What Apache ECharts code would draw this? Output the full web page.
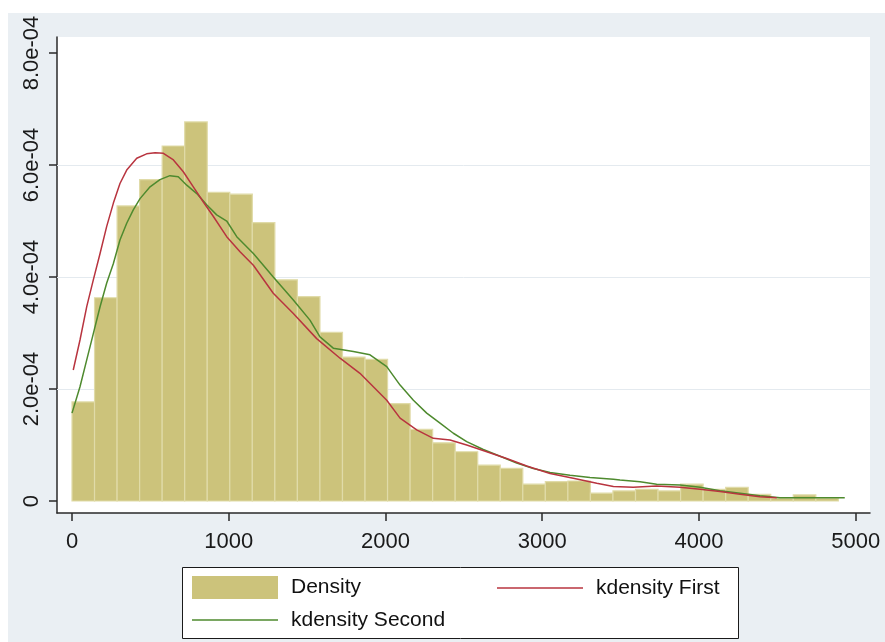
<!DOCTYPE html>
<html>
<head>
<meta charset="utf-8">
<script src="https://cdn.jsdelivr.net/npm/echarts@6/dist/echarts.min.js"></script>
<style>
  html, body { margin: 0; padding: 0; background: #ffffff; }
  #chart { width: 885px; height: 642px; }
</style>
</head>
<body>
<div id="chart"></div>
<script>
// Histogram: equal-width bins starting at binStart; densities in units of 1e-4
const binStart = 0;
const binWidth = 143.8;
const histDensityE4 = [
  1.77, 3.63, 5.27, 5.74, 6.34, 6.77, 5.51, 5.48, 4.97, 3.95,
  3.65, 3.01, 2.57, 2.53, 1.74, 1.28, 1.04, 0.88, 0.64, 0.585,
  0.30, 0.345, 0.357, 0.14, 0.18, 0.21, 0.18, 0.30, 0.21, 0.245,
  0.12, 0.05, 0.11, 0.05
];

// Kernel density estimate of the first variable (x, density in 1e-4)
const firstX = [
  8, 51, 94, 136, 179, 221, 264, 306, 349, 413, 476, 530, 583, 647, 710, 774,
  838, 902, 987, 1072, 1157, 1284, 1412, 1561, 1710, 1837, 2008, 2093, 2199,
  2305, 2412, 2518, 2646, 2773, 2901, 3050, 3198, 3348, 3454, 3580, 3730, 3879,
  4007, 4134, 4262, 4389, 4496
];
const firstY = [
  2.34, 2.875, 3.47, 3.95, 4.42, 4.90, 5.32, 5.67, 5.91, 6.12, 6.20, 6.22, 6.21, 6.09, 5.88, 5.61,
  5.34, 5.08, 4.72, 4.45, 4.21, 3.71, 3.35, 2.90, 2.55, 2.28, 1.80, 1.48, 1.27,
  1.12, 1.09, 1.00, 0.88, 0.76, 0.625, 0.49, 0.405, 0.316, 0.26, 0.245, 0.27, 0.245,
  0.21, 0.17, 0.12, 0.077, 0.06
];

// Kernel density estimate of the second variable (x, density in 1e-4)
const secondX = [
  0, 51, 94, 136, 179, 221, 264, 306, 349, 391, 434, 498, 561, 625, 678, 732,
  796, 859, 923, 987, 1051, 1157, 1284, 1412, 1518, 1582, 1667, 1795, 1901, 2008,
  2093, 2178, 2263, 2348, 2433, 2518, 2624, 2731, 2837, 2943, 3050, 3177, 3305,
  3454, 3496, 3624, 3730, 3879, 4007, 4134, 4262, 4389, 4517, 4645, 4815, 4930
];
const secondY = [
  1.57, 2.04, 2.52, 2.99, 3.47, 3.89, 4.24, 4.66, 4.96, 5.20, 5.40, 5.61, 5.74, 5.81, 5.79, 5.64,
  5.49, 5.29, 5.11, 5.00, 4.72, 4.42, 4.00, 3.59, 3.23, 2.93, 2.73, 2.67, 2.61, 2.40,
  2.07, 1.80, 1.57, 1.39, 1.21, 1.06, 0.92, 0.80, 0.68, 0.58, 0.51, 0.46, 0.42,
  0.39, 0.375, 0.345, 0.30, 0.285, 0.245, 0.185, 0.14, 0.095, 0.06, 0.06, 0.06, 0.06
];

// Axis ticks
const xTickValues = [0, 1000, 2000, 3000, 4000, 5000];
const xTickLabels = ['0', '1000', '2000', '3000', '4000', '5000'];
const yTickValues = [0, 2, 4, 6, 8];
const yTickLabels = ['0', '2.0e-04', '4.0e-04', '6.0e-04', '8.0e-04'];
const yGridValues = [2, 4, 6];

const seriesNames = ['Density', 'kdensity First', 'kdensity Second'];

const FONT = "'Liberation Sans', Arial, Helvetica, sans-serif";
const BAR_FILL = '#CCC37B';
const BAR_EDGE = '#E0DBA8';
const RED = '#B8343F';
const GREEN = '#4E8A2E';
const AXIS = '#2a2a2a';

const histData = histDensityE4.map((v, i) => [binStart + i * binWidth, binStart + (i + 1) * binWidth, v]);
const firstData = firstX.map((x, i) => [x, firstY[i]]);
const secondData = secondX.map((x, i) => [x, secondY[i]]);

function tickLabel(values, labels, v) {
  for (let i = 0; i < values.length; i++) {
    if (Math.abs(values[i] - v) < 1e-6) return labels[i];
  }
  return '';
}

const chart = echarts.init(document.getElementById('chart'), null, { renderer: 'canvas' });

const legendBase = {
  orient: 'horizontal',
  padding: 0,
  itemGap: 0,
  itemWidth: 86,
  icon: 'rect',
  selectedMode: false,
  itemStyle: { borderWidth: 0 },
  textStyle: { fontFamily: FONT, fontSize: 21, color: '#111', lineHeight: 22, padding: [0, 0, 0, 8] }
};

chart.setOption({
  animation: false,
  backgroundColor: '#ffffff',
  graphic: [
    {
      type: 'rect', z: -10, silent: true,
      shape: { x: 8, y: 13, width: 877, height: 629 },
      style: { fill: '#EAEFF3' }
    },
    {
      type: 'rect', z: 3, silent: true,
      shape: { x: 182.5, y: 567.5, width: 556, height: 71 },
      style: { fill: '#ffffff', stroke: '#1a1a1a', lineWidth: 1 }
    }
  ],
  grid: {
    left: 57, top: 37, right: 15, bottom: 129,
    show: true, backgroundColor: '#ffffff', borderWidth: 0,
    containLabel: false
  },
  legend: [
    Object.assign({}, legendBase, { data: [seriesNames[0]], left: 192, top: 576, itemHeight: 23 }),
    Object.assign({}, legendBase, { data: [seriesNames[1]], left: 497, top: 577, itemHeight: 1.5 }),
    Object.assign({}, legendBase, { data: [seriesNames[2]], left: 192, top: 609, itemHeight: 1.5 })
  ],
  xAxis: {
    type: 'value',
    min: -95.7,
    max: 5091,
    axisLine: { onZero: false, lineStyle: { color: AXIS, width: 1.5 } },
    axisTick: { show: true, length: 8, customValues: xTickValues, lineStyle: { color: AXIS, width: 1.5 } },
    axisLabel: {
      customValues: xTickValues,
      margin: 18,
      fontFamily: FONT, fontSize: 22, color: '#1a1a1a',
      formatter: (v) => tickLabel(xTickValues, xTickLabels, v)
    },
    splitLine: { show: false }
  },
  yAxis: {
    type: 'value',
    min: -0.214,
    max: 8.286,
    axisLine: { show: true, onZero: false, lineStyle: { color: AXIS, width: 1.5 } },
    axisTick: { show: true, length: 8, customValues: yTickValues, lineStyle: { color: AXIS, width: 1.5 } },
    axisLabel: {
      customValues: yTickValues,
      rotate: 90,
      margin: 14,
      fontFamily: FONT, fontSize: 22, color: '#1a1a1a',
      formatter: (v) => tickLabel(yTickValues, yTickLabels, v)
    },
    splitLine: { show: false }
  },
  series: [
    {
      name: seriesNames[0],
      type: 'custom',
      z: 2,
      itemStyle: { color: BAR_FILL },
      data: histData,
      encode: { x: [0, 1], y: 2 },
      renderItem: (params, api) => {
        const top = api.coord([api.value(0), api.value(2)]);
        const bottom = api.coord([api.value(1), 0]);
        return {
          type: 'rect',
          shape: { x: top[0], y: top[1], width: bottom[0] - top[0], height: bottom[1] - top[1] },
          style: { fill: BAR_FILL, stroke: BAR_EDGE, lineWidth: 1.2 }
        };
      },
      markLine: {
        silent: true,
        z: 1,
        symbol: 'none',
        label: { show: false },
        lineStyle: { color: '#E4EAEF', width: 1, type: 'solid' },
        data: yGridValues.map(v => ({ yAxis: v }))
      }
    },
    {
      name: seriesNames[1],
      type: 'line',
      z: 4,
      showSymbol: false,
      symbol: 'none',
      smooth: false,
      color: RED,
      lineStyle: { color: RED, width: 1.5 },
      data: firstData
    },
    {
      name: seriesNames[2],
      type: 'line',
      z: 3,
      showSymbol: false,
      symbol: 'none',
      smooth: false,
      color: GREEN,
      lineStyle: { color: GREEN, width: 1.5 },
      data: secondData
    }
  ]
});
</script>
</body>
</html>
